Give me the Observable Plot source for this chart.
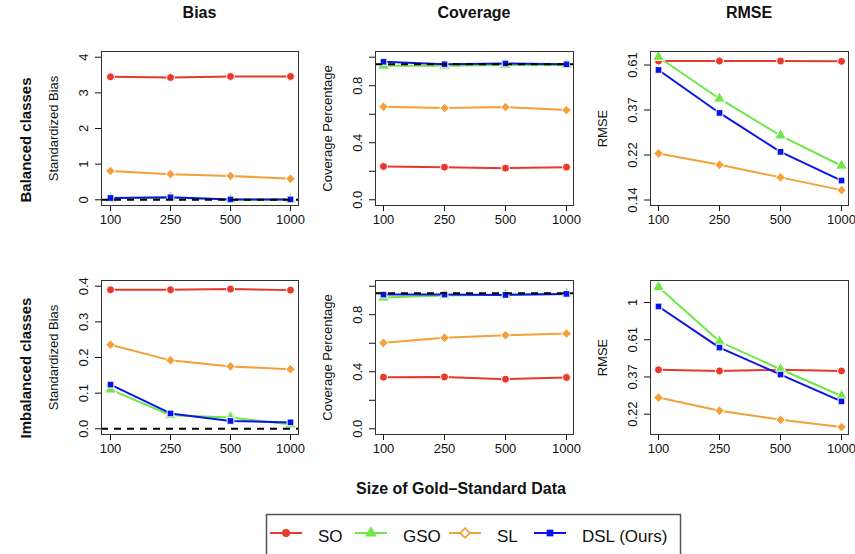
<!DOCTYPE html>
<html><head><meta charset="utf-8">
<script src="https://cdn.jsdelivr.net/npm/d3@7"></script>
<script src="https://cdn.jsdelivr.net/npm/@observablehq/plot@0.6"></script>
<style>
body{margin:0;background:#fff;}
#root{position:relative;width:855px;height:554px;overflow:hidden;font-family:"Liberation Sans",Arial,Helvetica,sans-serif;color:#111;}
.t{position:absolute;white-space:nowrap;}
.colt{font-weight:bold;font-size:16px;transform:translateX(-50%);}
.rowt{font-weight:bold;font-size:15px;transform:translate(-50%,-50%) rotate(-90deg);}
svg text{font-weight:normal;}
</style></head><body><div id="root"></div>
<script>
// ---- data ----
const sizes = ["100", "250", "500", "1000"];
const methods = ["SO", "GSO", "SL", "DSL (Ours)"];
const colors = ["#E8392A", "#6FE64A", "#F2A13A", "#0A14E8"];
const symbols = ["circle", "triangle", "diamond2", "square"];
const radii = [4, 4.4, 4.3, 3.8];

const colTitles = ["Bias", "Coverage", "RMSE"];
const rowTitles = ["Balanced classes", "Imbalanced classes"];
const yLabels = ["Standardized Bias", "Coverage Percentage", "RMSE"];
const xTitle = "Size of Gold\u2013Standard Data";

// Balanced classes
const balBiasSO  = [3.45, 3.43, 3.46, 3.46];
const balBiasGSO = [0.04, 0.06, 0.005, 0.005];
const balBiasSL  = [0.81, 0.72, 0.67, 0.59];
const balBiasDSL = [0.05, 0.07, 0.01, 0.01];

const balCovSO  = [0.234, 0.229, 0.222, 0.229];
const balCovGSO = [0.940, 0.940, 0.945, 0.945];
const balCovSL  = [0.653, 0.643, 0.650, 0.629];
const balCovDSL = [0.968, 0.950, 0.956, 0.950];

const balRmseSO  = [0.634, 0.634, 0.634, 0.632];
const balRmseGSO = [0.663, 0.417, 0.277, 0.198];
const balRmseSL  = [0.227, 0.200, 0.174, 0.151];
const balRmseDSL = [0.574, 0.356, 0.231, 0.168];

// Imbalanced classes
const imbBiasSO  = [0.390, 0.390, 0.392, 0.389];
const imbBiasGSO = [0.110, 0.038, 0.032, 0.012];
const imbBiasSL  = [0.236, 0.192, 0.175, 0.167];
const imbBiasDSL = [0.124, 0.043, 0.022, 0.018];

const imbCovSO  = [0.362, 0.364, 0.348, 0.360];
const imbCovGSO = [0.920, 0.935, 0.940, 0.945];
const imbCovSL  = [0.603, 0.638, 0.656, 0.668];
const imbCovDSL = [0.941, 0.941, 0.939, 0.946];

const imbRmseSO  = [0.405, 0.399, 0.405, 0.399];
const imbRmseGSO = [1.230, 0.592, 0.408, 0.285];
const imbRmseSL  = [0.279, 0.234, 0.207, 0.188];
const imbRmseDSL = [0.948, 0.546, 0.380, 0.265];

// tick values and labels
const biasTopTicks = [0, 1, 2, 3, 4];
const biasTopLabels = ["0", "1", "2", "3", "4"];
const biasBotTicks = [0, 0.1, 0.2, 0.3, 0.4];
const biasBotLabels = ["0.0", "0.1", "0.2", "0.3", "0.4"];
const covTicks = [0, 0.2, 0.4, 0.6, 0.8, 1.0];
const covLabels = ["0.0", "", "0.4", "", "0.8", ""];
const rmseTopTicks = [0.1353, 0.2231, 0.3679, 0.6065];
const rmseTopLabels = ["0.14", "0.22", "0.37", "0.61"];
const rmseBotTicks = [0.2231, 0.3679, 0.6065, 1.0];
const rmseBotLabels = ["0.22", "0.37", "0.61", "1"];
const targetCoverage = 0.95;
const zeroBias = 0;

// ---- helpers ----
const root = document.getElementById("root");
const FONT = '"Liberation Sans", Arial, Helvetica, sans-serif';

function longData(series) {
  const out = [];
  series.forEach((vals, m) => vals.forEach((v, i) => out.push({method: methods[m], size: sizes[i], value: v})));
  return out;
}

function panel({series, yType, domain, ticks, labels, yLabel, ref, left, top, bw}) {
  const mL = 70, mR = 4, mT = 6, mB = 34, bh = 154;
  const data = longData(series);
  const labelMap = new Map(ticks.map((t, i) => [t, labels[i]]));
  const marks = [
    Plot.axisX({tickSize: 6, tickPadding: 3, label: null, fontSize: 13}),
    Plot.axisY({ticks, tickFormat: d => labelMap.get(d), tickSize: 6, tickPadding: 8,
      tickRotate: -90, textAnchor: "middle", lineAnchor: "bottom", fontSize: 13,
      label: yLabel, labelAnchor: "center", labelOffset: 53, labelArrow: "none"})
  ];
  methods.forEach((m, k) => {
    const d = data.filter(r => r.method === m);
    marks.push(Plot.line(d, {x: "size", y: "value", stroke: colors[k], strokeWidth: 2}));
    marks.push(Plot.dot(d, {x: "size", y: "value", fill: colors[k], symbol: () => symbols[k], r: radii[k], stroke: "white", strokeWidth: 1}));
  });
  if (ref != null) marks.push(Plot.ruleY([ref], {stroke: "#000", strokeWidth: 2, strokeDasharray: "7,6"}));
  marks.push(Plot.frame({stroke: "#333", strokeWidth: 1}));
  const chart = Plot.plot({
    width: mL + bw + mR, height: mT + bh + mB,
    marginLeft: mL, marginRight: mR, marginTop: mT, marginBottom: mB,
    style: {fontFamily: FONT, fontSize: "13px", fontWeight: "normal", color: "#111", background: "transparent", overflow: "visible"},
    x: {type: "point", domain: sizes, padding: 0.12},
    y: {type: yType, domain},
    symbol: {type: "identity"},
    marks
  });
  chart.style.position = "absolute";
  chart.style.left = (left - mL) + "px";
  chart.style.top = (top - mT) + "px";
  root.appendChild(chart);
}

const colLeft = [101, 375, 650];
const colW = [197, 198, 198];
const rowTop = [50.5, 280];

// Row 1: balanced
panel({series: [balBiasSO, balBiasGSO, balBiasSL, balBiasDSL], yType: "linear", domain: [-0.16, 4.16],
  ticks: biasTopTicks, labels: biasTopLabels, yLabel: yLabels[0], ref: zeroBias, left: colLeft[0], top: rowTop[0], bw: colW[0]});
panel({series: [balCovSO, balCovGSO, balCovSL, balCovDSL], yType: "linear", domain: [-0.04, 1.04],
  ticks: covTicks, labels: covLabels, yLabel: yLabels[1], ref: targetCoverage, left: colLeft[1], top: rowTop[0], bw: colW[1]});
panel({series: [balRmseSO, balRmseGSO, balRmseSL, balRmseDSL], yType: "log", domain: [0.1273, 0.7047],
  ticks: rmseTopTicks, labels: rmseTopLabels, yLabel: yLabels[2], ref: null, left: colLeft[2], top: rowTop[0], bw: colW[2]});
// Row 2: imbalanced
panel({series: [imbBiasSO, imbBiasGSO, imbBiasSL, imbBiasDSL], yType: "linear", domain: [-0.016, 0.416],
  ticks: biasBotTicks, labels: biasBotLabels, yLabel: yLabels[0], ref: zeroBias, left: colLeft[0], top: rowTop[1], bw: colW[0]});
panel({series: [imbCovSO, imbCovGSO, imbCovSL, imbCovDSL], yType: "linear", domain: [-0.04, 1.04],
  ticks: covTicks, labels: covLabels, yLabel: yLabels[1], ref: targetCoverage, left: colLeft[1], top: rowTop[1], bw: colW[1]});
panel({series: [imbRmseSO, imbRmseGSO, imbRmseSL, imbRmseDSL], yType: "log", domain: [0.1699, 1.3437],
  ticks: rmseBotTicks, labels: rmseBotLabels, yLabel: yLabels[2], ref: null, left: colLeft[2], top: rowTop[1], bw: colW[2]});

// ---- titles ----
function addText(txt, cls, x, y) {
  const d = document.createElement("div");
  d.className = "t " + cls;
  d.textContent = txt;
  d.style.left = x + "px";
  d.style.top = y + "px";
  root.appendChild(d);
  return d;
}
colTitles.forEach((t, i) => addText(t, "colt", colLeft[i] + colW[i] / 2, 4));
addText(rowTitles[0], "rowt", 25, 140);
addText(rowTitles[1], "rowt", 25, 368);
addText(xTitle, "colt", 461, 480);

// ---- legend ----
const lg = d3.select(root).append("svg")
  .attr("width", 855).attr("height", 554)
  .style("position", "absolute").style("left", "0px").style("top", "0px")
  .style("font-family", FONT);
lg.append("rect").attr("x", 266.5).attr("y", 514.5).attr("width", 414).attr("height", 60)
  .attr("fill", "none").attr("stroke", "#555").attr("stroke-width", 1.5);
const itemX = [270, 355, 449, 534];
methods.forEach((m, k) => {
  const g = lg.append("g").attr("transform", `translate(${itemX[k]},533)`);
  g.append("line").attr("x1", 0).attr("x2", 32).attr("stroke", colors[k]).attr("stroke-width", 2);
  const sym = {circle: d3.symbolCircle, triangle: d3.symbolTriangle, diamond2: d3.symbolDiamond2, square: d3.symbolSquare}[symbols[k]];
  const p = g.append("path").attr("transform", "translate(16,0)")
    .attr("d", d3.symbol(sym, Math.PI * radii[k] * radii[k])());
  if (k === 2) p.attr("fill", "white").attr("stroke", colors[k]).attr("stroke-width", 1.8);
  else p.attr("fill", colors[k]);
  g.append("text").attr("x", 48).attr("y", 8.5).attr("font-size", 17).attr("fill", "#111").text(m);
});
</script></body></html>
